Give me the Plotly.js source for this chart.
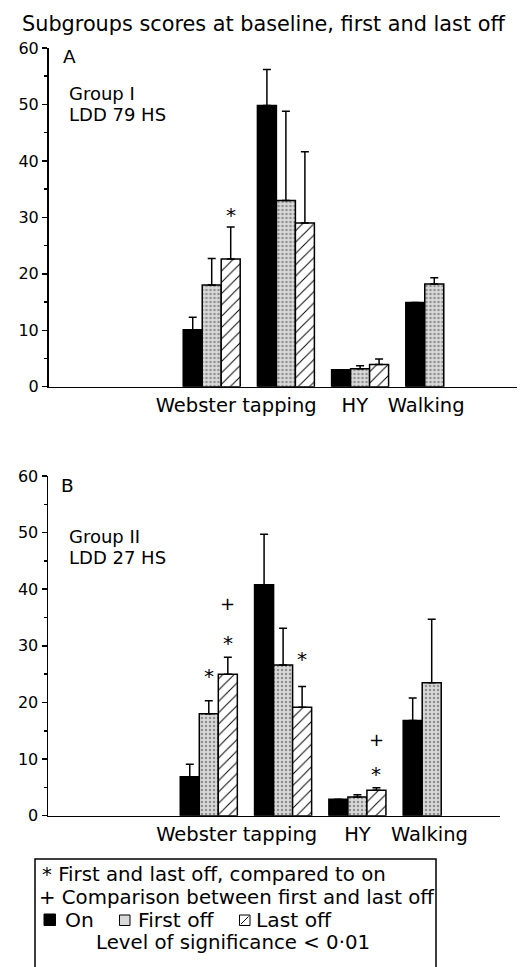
<!DOCTYPE html>
<html>
<head>
<meta charset="utf-8">
<script src="https://cdn.plot.ly/plotly-3.0.1.min.js"></script>
<style>html,body{margin:0;padding:0;background:#fff;}#chart{width:528px;height:967px;}</style>
</head>
<body>
<div id="chart"></div>
<script>
// ---- data ----
const categories = ['Webster', 'tapping', 'HY', 'Walking'];
const seriesNames = ['On', 'First off', 'Last off'];
const tickTexts = ['Webster tapping', 'HY', 'Walking'];

// Panel A: Group I, LDD 79 HS
const onA = [10.1, 49.8, 3.0, 14.9];
const onErrA = [2.2, 6.4, null, null];
const firstA = [18.0, 33.0, 3.2, 18.2];
const firstErrA = [4.7, 15.8, 0.5, 1.1];
const lastA = [22.6, 29.0, 3.95, null];
const lastErrA = [5.7, 12.6, 0.95, null];
// significance marks A: [category index, series index, value, symbol]
const sigA = [[0, 2, 31.3, '*']];

// Panel B: Group II, LDD 27 HS
const onB = [6.9, 40.8, 2.9, 16.8];
const onErrB = [2.2, 8.9, null, 4.0];
const firstB = [18.0, 26.6, 3.3, 23.5];
const firstErrB = [2.3, 6.5, 0.4, 11.2];
const lastB = [25.0, 19.15, 4.5, null];
const lastErrB = [3.0, 3.65, 0.45, null];
const sigB = [[0, 1, 25.6, '*'], [0, 2, 31.3, '*'], [0, 2, 37.5, '+'],
              [1, 2, 28.5, '*'], [2, 2, 8.25, '*'], [2, 2, 13.4, '+']];

// ---- layout helpers ----
const W = 528, H = 967;
const FONT = 'DejaVu Sans';
const px = v => v / W;
const py = v => 1 - v / H;
const xIdx = categories.map((c, i) => i);
const BARGAP = 0.232;
const barW = (1 - BARGAP) / 3;

const styles = [
  {color: '#000000', line: {color: '#000', width: 1.5}},
  {color: '#d2d2d2', line: {color: '#000', width: 1.5},
   pattern: {shape: '.', bgcolor: '#d9d9d9', fgcolor: '#8f8f8f', size: 4, solidity: 0.3}},
  {color: '#ffffff', line: {color: '#000', width: 1.5},
   pattern: {shape: '/', bgcolor: '#ffffff', fgcolor: '#000000', size: 8, solidity: 0.12}}
];

function barTrace(vals, errs, s, xa, ya) {
  return {
    type: 'bar', x: xIdx, y: vals, name: seriesNames[s], xaxis: xa, yaxis: ya,
    marker: styles[s], showlegend: false, hoverinfo: 'skip',
    error_y: {type: 'data', symmetric: false, array: errs,
              arrayminus: errs.map(e => (e == null ? null : 0)),
              color: '#000', thickness: 1.5, width: 4}
  };
}

const data = [
  barTrace(onA, onErrA, 0, 'x', 'y'),
  barTrace(firstA, firstErrA, 1, 'x', 'y'),
  barTrace(lastA, lastErrA, 2, 'x', 'y'),
  barTrace(onB, onErrB, 0, 'x2', 'y2'),
  barTrace(firstB, firstErrB, 1, 'x2', 'y2'),
  barTrace(lastB, lastErrB, 2, 'x2', 'y2')
];

function sigAnn(list, xr, yr) {
  return list.map(([c, s, v, sym]) => ({
    xref: xr, yref: yr, x: c + (s - 1) * barW, y: v, text: sym, showarrow: false,
    xanchor: 'center', yanchor: 'middle', yshift: sym === '*' ? -5 : 0,
    font: {family: FONT, size: sym === '*' ? 20 : 18, color: '#000'}
  }));
}

function txt(text, x, y, size, anchor) {
  return {xref: 'paper', yref: 'paper', x: px(x), y: py(y), text: text, showarrow: false,
          xanchor: anchor || 'left', yanchor: 'middle',
          font: {family: FONT, size: size, color: '#000'}};
}

const yCommon = {
  range: [0, 60], dtick: 10, tick0: 0, showline: true, linecolor: '#000', linewidth: 1.5,
  ticks: 'outside', ticklen: 5, tickwidth: 1.5, tickcolor: '#000',
  minor: {dtick: 5, ticks: 'outside', ticklen: 3, tickwidth: 1.5, tickcolor: '#000'},
  showgrid: false, zeroline: false, fixedrange: true,
  tickfont: {family: FONT, size: 16, color: '#000'}
};
const xCommon = {
  showline: true, linecolor: '#000', linewidth: 1.5, ticks: '', showgrid: false,
  zeroline: false, fixedrange: true, ticktext: tickTexts,
  tickfont: {family: FONT, size: 19.5, color: '#000'}
};

const layout = {
  width: W, height: H, margin: {l: 0, r: 0, t: 0, b: 0},
  paper_bgcolor: '#fff', plot_bgcolor: 'rgba(0,0,0,0)',
  barmode: 'group', bargap: BARGAP, bargroupgap: 0,
  title: {text: 'Subgroups scores at baseline, first and last off',
          font: {family: FONT, size: 20.8, color: '#000'},
          x: px(22), xanchor: 'left', xref: 'paper', y: py(23.5), yanchor: 'middle', yref: 'paper'},
  xaxis: Object.assign({}, xCommon, {domain: [px(48.5), px(517)], range: [-2.2, 4.115],
          anchor: 'y', tickvals: [0.33, 1.93, 2.89]}),
  yaxis: Object.assign({}, yCommon, {domain: [py(386.7), py(48)], anchor: 'x'}),
  xaxis2: Object.assign({}, xCommon, {domain: [px(48), px(500)], range: [-2.164, 3.919],
          anchor: 'y2', tickvals: [0.375, 2.0, 2.97]}),
  yaxis2: Object.assign({}, yCommon, {domain: [py(815.7), py(476)], anchor: 'x2'}),
  shapes: [
    {type: 'rect', xref: 'paper', yref: 'paper', x0: px(35), x1: px(436), y0: py(859), y1: py(990),
     line: {color: '#000', width: 1.5}, fillcolor: 'rgba(0,0,0,0)'},
    // legend swatches
    {type: 'rect', xref: 'paper', yref: 'paper', x0: px(44), x1: px(55.5), y0: py(914), y1: py(925.5),
     line: {color: '#000', width: 1}, fillcolor: '#000'},
    {type: 'rect', xref: 'paper', yref: 'paper', x0: px(119.5), x1: px(130), y0: py(915), y1: py(925.5),
     line: {color: '#000', width: 1}, fillcolor: '#d9d9d9'},
    {type: 'rect', xref: 'paper', yref: 'paper', x0: px(239.5), x1: px(250), y0: py(915), y1: py(925.5),
     line: {color: '#000', width: 1}, fillcolor: '#fff'},
    {type: 'line', xref: 'paper', yref: 'paper', x0: px(241), x1: px(248.5), y0: py(924), y1: py(916.5),
     line: {color: '#000', width: 1}}
  ],
  annotations: [
    txt('A', 61, 56.7, 18.5), txt('Group I', 67, 93, 18), txt('LDD 79 HS', 67, 114, 18),
    txt('B', 59, 485.3, 18.5), txt('Group II', 67, 536.5, 18), txt('LDD 27 HS', 67, 557.5, 18),
    txt('* First and last off, compared to on', 40, 874.7, 19.75),
    txt('+ Comparison between first and last off', 37, 897, 19.75),
    txt('On', 62.5, 919.7, 20.3), txt('First off', 136, 919.7, 20.3), txt('Last off', 254, 919.7, 20.3),
    txt('Level of significance < 0·01', 372, 942.5, 19.75, 'right')
  ].concat(sigAnn(sigA, 'x', 'y'), sigAnn(sigB, 'x2', 'y2'))
};

Plotly.newPlot('chart', data, layout, {staticPlot: true, displayModeBar: false});
</script>
</body>
</html>
